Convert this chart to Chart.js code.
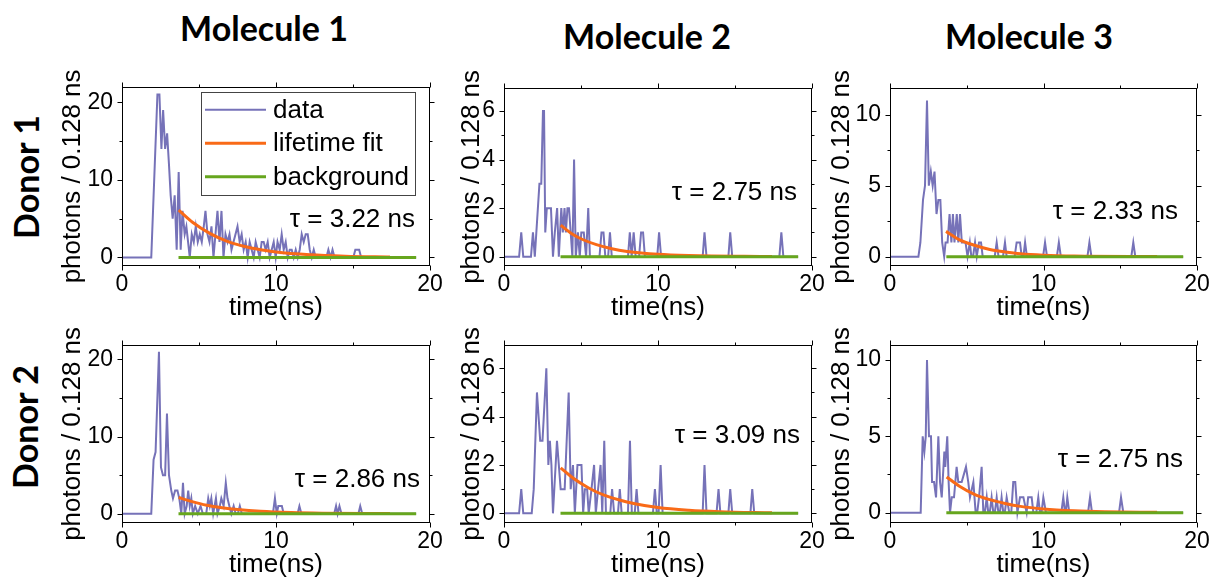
<!DOCTYPE html>
<html>
<head>
<meta charset="utf-8">
<script src="https://cdn.jsdelivr.net/npm/chart.js@4.4.0/dist/chart.umd.min.js"></script>
<style>
  body { margin: 0; background: #fff; width: 1213px; height: 581px; position: relative; overflow: hidden; }
  canvas { position: absolute; }
  .head { position: absolute; transform: translateX(-50%); font: 700 34px Lato, sans-serif; line-height: 1; white-space: nowrap; color: #000; }
  .side { position: absolute; transform: translate(-50%, -50%) rotate(-90deg); font: 700 34px Lato, sans-serif; line-height: 1; white-space: nowrap; color: #000; }
</style>
</head>
<body>
<div class="head" style="left:264px;top:11px">Molecule 1</div>
<div class="head" style="left:647px;top:19px">Molecule 2</div>
<div class="head" style="left:1029px;top:19px">Molecule 3</div>
<div class="side" style="left:26px;top:177px">Donor 1</div>
<div class="side" style="left:25px;top:427px">Donor 2</div>

<canvas id="p1"></canvas>
<canvas id="p2"></canvas>
<canvas id="p3"></canvas>
<canvas id="p4"></canvas>
<canvas id="p5"></canvas>
<canvas id="p6"></canvas>

<script>
// =====================
// Dados
// =====================
const seriesNames = ['data', 'lifetime fit', 'background'];
const tauLabels = ['3.22', '2.75', '2.33', '2.86', '3.09', '2.75'];

const xMajor = [0, 10, 20];
const xMinor = [5, 15];
const yMajorBig = [0, 10, 20];
const yMinorBig = [5, 15];
const yMajorSmall = [0, 2, 4, 6];
const yMinorSmall = [1, 3, 5];
const yMajorMid = [0, 5, 10];
const yMinorMid = [2.5, 7.5];

// Donor 1 / Molecule 1
const d1Time = [0, 1.9, 2.3, 2.43, 2.56, 2.67, 2.8, 2.93, 3.05, 3.16, 3.29, 3.42, 3.55, 3.68, 3.81, 3.93, 4.07, 4.18, 4.29, 4.4,
  4.53, 4.66, 4.79, 4.92, 5.05, 5.18, 5.31, 5.42, 5.55, 5.68, 5.81, 5.94, 6.07, 6.2, 6.33, 6.46, 6.59, 6.72, 6.85, 6.98,
  7.11, 7.24, 7.37, 7.5, 7.64, 7.77, 7.9, 8.03, 8.16, 8.29, 8.42, 8.55, 8.68, 8.81, 8.94, 9.07, 9.2, 9.33, 9.46, 9.59,
  9.72, 9.85, 9.98, 10.1, 10.24, 10.37, 10.5, 10.63, 10.76, 10.89, 11.02, 11.15, 11.28, 11.41, 11.54, 11.67, 11.8, 11.93, 12.06, 12.19,
  12.32, 12.45, 12.58, 13.27, 13.4, 13.54, 13.67, 13.8, 15.02, 15.15, 15.4, 15.53, 19.1];
const d1Photons = [0, 0, 21, 21, 14, 19, 14, 16, 12, 8, 5, 8, 1, 11, 1, 6, 3, 4, 2, 0,
  3, 2, 4, 2, 3, 2, 4, 6, 3, 2, 4, 0, 3, 6, 2, 6, 0, 3, 2, 3,
  1, 2, 3, 4, 2, 3, 1, 2, 0, 2, 1, 0, 2, 1, 0, 2, 2, 1, 2, 0,
  1, 2, 0, 2, 1, 3, 1, 2, 0, 1, 1, 0, 1, 0, 1, 3, 2, 3, 3, 1,
  0, 1, 0, 0, 1, 0, 1, 0, 0, 1, 1, 0, 0];
const fit1Time = [3.68, 4.6, 5.7, 6.8, 7.9, 9.0, 10.0, 12.2, 14.5, 17.4];
const fit1Photons = [6.1, 4.5, 3.1, 2.1, 1.45, 1.0, 0.7, 0.35, 0.17, 0.07];

// Donor 1 / Molecule 2
const d2Time = [0, 0.98, 1.12, 1.25, 1.75, 1.88, 2.0, 2.3, 2.42, 2.53, 2.6, 2.68, 2.78, 2.92, 3.05, 3.18, 3.3, 3.45, 3.56, 3.72,
  3.82, 3.93, 4.02, 4.12, 4.22, 4.33, 4.44, 4.55, 4.66, 4.8, 4.92, 5.02, 5.18, 5.33, 5.47, 5.58, 6.2, 6.33, 6.46, 6.58,
  6.76, 6.88, 7.0, 8.05, 8.17, 8.29, 8.42, 8.55, 8.77, 8.9, 9.03, 9.15, 9.95, 10.07, 10.2, 12.9, 13.02, 13.15, 14.57, 14.69,
  14.82, 17.88, 18.01, 18.14, 19.1];
const d2Photons = [0, 0, 1, 0, 0, 1, 0, 3, 3, 6, 6, 1, 2, 2, 2, 0, 1, 2, 0, 2,
  1, 2, 1, 2, 2, 1, 0, 4, 0, 1, 0, 1, 1, 0, 2, 0, 0, 1, 1, 0,
  0, 1, 0, 0, 1, 0, 1, 0, 0, 1, 1, 0, 0, 1, 0, 0, 1, 0, 0, 1,
  0, 0, 1, 0, 0];
const fit2Time = [3.68, 4.4, 5.14, 6.0, 7.0, 8.0, 10.0, 12.0, 17.4];
const fit2Photons = [1.3, 0.95, 0.7, 0.5, 0.33, 0.22, 0.1, 0.05, 0.01];

// Donor 1 / Molecule 3
const d3Time = [0, 1.85, 1.98, 2.15, 2.28, 2.41, 2.53, 2.66, 2.78, 2.9, 3.03, 3.15, 3.28, 3.4, 3.53, 3.62, 3.75, 3.88, 4.0, 4.1,
  4.2, 4.35, 4.45, 4.56, 4.68, 4.8, 4.92, 5.05, 5.2, 5.3, 5.41, 5.54, 5.65, 5.8, 5.93, 6.04, 6.82, 6.95, 7.07, 7.36,
  7.49, 7.6, 8.12, 8.25, 8.38, 8.47, 8.58, 8.69, 8.8, 8.92, 9.97, 10.1, 10.23, 10.87, 11.0, 11.13, 12.86, 12.99, 13.12, 15.72,
  15.85, 15.98, 19.1];
const d3Photons = [0, 0, 1, 4, 5, 11, 5, 6, 5, 6, 3, 4, 4, 1, 0, 1, 1, 3, 1, 3,
  1, 3, 1, 3, 1, 1, 1, 0, 1, 0, 0, 1, 0, 1, 1, 0, 0, 1, 0, 0,
  1, 0, 0, 1, 1, 1, 0, 0, 1, 0, 0, 1, 0, 0, 1, 0, 0, 1, 0, 0,
  1, 0, 0];
const fit3Time = [3.65, 4.5, 5.5, 6.5, 7.5, 8.5, 10.0, 12.0, 17.4];
const fit3Photons = [1.78, 1.2, 0.8, 0.5, 0.33, 0.2, 0.1, 0.04, 0.01];

// Donor 2 / Molecule 1
const d4Time = [0, 1.9, 2.05, 2.18, 2.4, 2.53, 2.66, 2.8, 2.92, 3.05, 3.2, 3.31, 3.45, 3.6, 3.72, 3.85, 3.96, 4.07, 4.2, 4.3,
  4.4, 4.5, 4.6, 4.75, 4.92, 5.1, 5.25, 5.47, 5.6, 5.7, 5.8, 5.92, 6.1, 6.2, 6.35, 6.45, 6.6, 6.74, 6.85, 6.97,
  7.1, 7.25, 7.38, 7.52, 7.65, 7.78, 9.8, 9.93, 10.05, 10.15, 10.38, 10.5, 11.4, 11.52, 11.65, 13.78, 13.9, 14.0, 14.12, 14.25,
  15.35, 15.47, 15.6, 19.1];
const d4Photons = [0, 0, 7, 8, 21, 6, 5, 5, 13, 5, 3, 2, 3, 3, 2, 0, 4, 0, 1, 3,
  1, 2, 0, 1, 0, 1, 0, 0, 2, 1, 2, 0, 2, 0, 1, 2, 1, 4, 2, 1,
  0, 1, 0, 0, 1, 0, 0, 2, 0, 1, 1, 0, 0, 1, 0, 0, 1, 0, 1, 0,
  0, 1, 0, 0];
const fit4Time = [3.68, 4.5, 5.5, 6.5, 7.5, 9.0, 11.0, 13.0, 17.4];
const fit4Photons = [2.1, 1.6, 1.1, 0.78, 0.55, 0.32, 0.16, 0.08, 0.02];

// Donor 2 / Molecule 2
const d5Time = [0, 0.98, 1.12, 1.25, 1.8, 1.93, 2.14, 2.35, 2.5, 2.75, 2.88, 2.98, 3.08, 3.18, 3.44, 3.68, 3.94, 4.2, 4.33, 4.48,
  4.6, 4.77, 5.03, 5.14, 5.25, 5.4, 5.5, 5.68, 5.85, 5.96, 6.11, 6.27, 6.38, 6.51, 6.62, 6.9, 7.02, 7.15, 7.4, 7.52,
  7.64, 8.05, 8.18, 8.3, 8.49, 8.61, 8.73, 9.67, 9.8, 9.92, 10.04, 10.17, 10.3, 12.9, 13.02, 13.15, 13.8, 13.93, 14.05, 14.57,
  14.69, 14.82, 16.0, 16.12, 16.25, 19.1];
const d5Photons = [0, 0, 1, 0, 0, 1, 5, 3, 3, 6, 2, 3, 2, 0, 3, 1, 1, 5, 1, 2,
  0, 2, 2, 0, 1, 1, 0, 1, 2, 0, 1, 2, 0, 3, 0, 0, 1, 0, 0, 1,
  0, 0, 3, 0, 0, 1, 0, 0, 1, 0, 0, 2, 0, 0, 2, 0, 0, 1, 0, 0,
  1, 0, 0, 1, 0, 0];
const fit5Time = [3.68, 4.5, 5.5, 6.5, 7.5, 8.5, 10.0, 12.0, 14.0, 17.4];
const fit5Photons = [1.88, 1.45, 1.05, 0.75, 0.55, 0.4, 0.24, 0.13, 0.07, 0.02];

// Donor 2 / Molecule 3
const d6Time = [0, 2.0, 2.13, 2.24, 2.33, 2.41, 2.54, 2.67, 2.74, 2.87,
  3.0, 3.15, 3.26, 3.37, 3.54, 3.6, 3.73, 3.82, 3.91, 4.02,
  4.17, 4.34, 4.45, 4.67, 4.95, 5.1, 5.21, 5.43, 5.58, 5.68,
  5.8, 5.97, 6.08, 6.18, 6.3, 6.4, 6.5, 6.62, 6.73, 6.83,
  6.95, 7.06, 7.16, 7.27, 7.38, 7.48, 7.6, 7.77, 7.9, 8.03,
  8.16, 8.3, 8.47, 8.69, 8.9, 9.0, 9.23, 9.34, 9.53, 9.66,
  9.77, 9.87, 9.99, 10.16, 11.16, 11.29, 11.4, 11.45, 11.55, 11.68,
  12.9, 13.03, 13.16, 14.92, 15.05, 15.2, 19.1];
const d6Photons = [0, 0, 5, 4, 5, 10, 5, 5, 2, 2,
  1, 5, 2, 1, 4, 3, 5, 2, 0, 1,
  1, 3, 2, 2, 3, 2, 1, 2, 0, 0,
  1, 3, 0, 0, 1, 0, 0, 1, 0, 0,
  1, 0, 0, 1, 0, 0, 1, 0, 0, 2,
  2, 0, 1, 1, 0, 1, 1, 0, 0, 1,
  0, 0, 1, 0, 0, 1, 0, 0, 1, 0,
  0, 1, 0, 0, 1, 0, 0];
const fit6Time = [3.69, 4.5, 5.5, 6.5, 7.5, 8.5, 10.0, 12.0, 14.0, 17.4];
const fit6Photons = [2.34, 1.75, 1.2, 0.85, 0.6, 0.41, 0.24, 0.12, 0.06, 0.02];

// background (nível zero)
const bgTime = [3.67, 19.1];
const bgPhotons = [0, 0];

// =====================
// Helpers visuais
// =====================
const FONT = "'Liberation Sans', Arial, sans-serif";
const colData = '#7672b8';
const colFit = '#f96a17';
const colBg = '#66a61e';
const ML = 100, MT = 12, MR = 24, MB = 70;

const pts = (xs, ys) => xs.map((x, i) => ({ x, y: ys[i] }));

const panels = [
  { id: 'p1', L: 122, T: 76, W: 308, H: 190, yMin: -1.1, yMax: 22, yMajor: yMajorBig, yMinor: yMinorBig, yGap: 49.5,
    tau: tauLabels[0], tauRight: 415, tauBase: 227, legend: true, t: d1Time, p: d1Photons, ft: fit1Time, fp: fit1Photons },
  { id: 'p2', L: 504, T: 77, W: 308, H: 189, yMin: -0.38, yMax: 6.95, yMajor: yMajorSmall, yMinor: yMinorSmall, yGap: 32,
    tau: tauLabels[1], tauRight: 797, tauBase: 200, t: d2Time, p: d2Photons, ft: fit2Time, fp: fit2Photons },
  { id: 'p3', L: 890, T: 77, W: 307, H: 189, yMin: -0.66, yMax: 11.9, yMajor: yMajorMid, yMinor: yMinorMid, yGap: 48,
    tau: tauLabels[2], tauRight: 1178, tauBase: 219, t: d3Time, p: d3Photons, ft: fit3Time, fp: fit3Photons },
  { id: 'p4', L: 122, T: 334, W: 308, H: 189, yMin: -1.2, yMax: 21.9, yMajor: yMajorBig, yMinor: yMinorBig, yGap: 49.5,
    tau: tauLabels[3], tauRight: 420, tauBase: 487, t: d4Time, p: d4Photons, ft: fit4Time, fp: fit4Photons },
  { id: 'p5', L: 504, T: 334, W: 308, H: 189, yMin: -0.4, yMax: 6.97, yMajor: yMajorSmall, yMinor: yMinorSmall, yGap: 32,
    tau: tauLabels[4], tauRight: 800, tauBase: 443, t: d5Time, p: d5Photons, ft: fit5Time, fp: fit5Photons },
  { id: 'p6', L: 890, T: 334, W: 307, H: 189, yMin: -0.68, yMax: 11, yMajor: yMajorMid, yMinor: yMinorMid, yGap: 48,
    tau: tauLabels[5], tauRight: 1183, tauBase: 467, t: d6Time, p: d6Photons, ft: fit6Time, fp: fit6Photons }
];

// moldura + ticks (fora) + tau + legenda
const panelDecor = {
  id: 'panelDecor',
  afterDatasetsDraw(chart, args, o) {
    const { ctx, chartArea: a, scales: { x, y } } = chart;
    const l = Math.round(a.left) + 0.5, t = Math.round(a.top) + 0.5;
    const r = Math.round(a.right) - 0.5, b = Math.round(a.bottom) - 0.5;
    ctx.save();
    ctx.strokeStyle = '#000';
    ctx.lineWidth = 1;
    ctx.strokeRect(l, t, r - l, b - t);
    ctx.beginPath();
    const xt = (vals, len) => vals.forEach(v => {
      const px = Math.round(x.getPixelForValue(v)) + 0.5;
      ctx.moveTo(px, b); ctx.lineTo(px, b + len);
      ctx.moveTo(px, t); ctx.lineTo(px, t - len);
    });
    const yt = (vals, len) => vals.forEach(v => {
      const py = Math.round(y.getPixelForValue(v)) + 0.5;
      ctx.moveTo(l, py); ctx.lineTo(l - len, py);
      ctx.moveTo(r, py); ctx.lineTo(r + len, py);
    });
    xt(o.xMajor, 5); xt(o.xMinor, 3);
    yt(o.yMajor, 5); yt(o.yMinor, 3);
    ctx.stroke();

    // tau
    ctx.fillStyle = '#000';
    ctx.font = '26px ' + FONT;
    ctx.textAlign = 'right';
    ctx.textBaseline = 'alphabetic';
    ctx.fillText('\u03c4 = ' + o.tau + ' ns', o.tauX, o.tauY);

    if (o.legend) {
      const ds = chart.data.datasets;
      const bx = a.left + 79, by = a.top + 5;
      ctx.strokeStyle = '#444';
      ctx.strokeRect(Math.round(bx) + 0.5, Math.round(by) + 0.5, 214, 103);
      ctx.font = '26px ' + FONT;
      ctx.textAlign = 'left';
      ctx.textBaseline = 'middle';
      seriesNames.forEach((name, i) => {
        const ly = by + 18 + i * 33.5;
        ctx.strokeStyle = ds[i].borderColor;
        ctx.lineWidth = ds[i].borderWidth;
        ctx.beginPath();
        ctx.moveTo(bx + 4, ly); ctx.lineTo(bx + 65, ly);
        ctx.stroke();
        ctx.fillText(name, bx + 72, ly + 1);
      });
    }
    ctx.restore();
  }
};

panels.forEach(pn => {
  const cv = document.getElementById(pn.id);
  const cw = pn.W + ML + MR, ch = pn.H + MT + MB;
  const left = pn.L - ML, top = pn.T - MT;
  cv.width = cw; cv.height = ch;
  cv.style.left = left + 'px';
  cv.style.top = top + 'px';
  cv.style.width = cw + 'px';
  cv.style.height = ch + 'px';

  new Chart(cv.getContext('2d'), {
    type: 'line',
    data: {
      datasets: [
        { label: seriesNames[0], data: pts(pn.t, pn.p), borderColor: colData, borderWidth: 2, pointRadius: 0, tension: 0, order: 3 },
        { label: seriesNames[1], data: pts(pn.ft, pn.fp), borderColor: colFit, borderWidth: 3, pointRadius: 0, cubicInterpolationMode: 'monotone', order: 2 },
        { label: seriesNames[2], data: pts(bgTime, bgPhotons), borderColor: colBg, borderWidth: 3, pointRadius: 0, order: 1 }
      ]
    },
    options: {
      responsive: false,
      animation: false,
      devicePixelRatio: 1,
      events: [],
      layout: { padding: { left: 0, top: MT, right: MR, bottom: 0 } },
      plugins: {
        legend: { display: false },
        tooltip: { enabled: false },
        panelDecor: {
          xMajor, xMinor, yMajor: pn.yMajor, yMinor: pn.yMinor,
          tau: pn.tau, tauX: pn.tauRight - left, tauY: pn.tauBase - top, legend: !!pn.legend
        }
      },
      scales: {
        x: {
          type: 'linear', min: 0, max: 20,
          afterBuildTicks: s => { s.ticks = xMajor.map(v => ({ value: v })); },
          afterFit: s => { s.height = MB; },
          grid: { display: false, drawTicks: false },
          border: { display: false },
          ticks: { color: '#000', font: { family: FONT, size: 23 }, padding: 5, maxRotation: 0, autoSkip: false },
          title: { display: true, text: 'time(ns)', color: '#000', font: { family: FONT, size: 26, lineHeight: 1 }, padding: { top: 0, bottom: 15 } }
        },
        y: {
          min: pn.yMin, max: pn.yMax,
          afterBuildTicks: s => { s.ticks = pn.yMajor.map(v => ({ value: v })); },
          afterFit: s => { s.width = ML; },
          grid: { display: false, drawTicks: false },
          border: { display: false },
          ticks: { color: '#000', font: { family: FONT, size: 23 }, padding: 9, autoSkip: false },
          title: { display: true, text: 'photons / 0.128 ns', color: '#000', font: { family: FONT, size: 26, lineHeight: 1 }, padding: { top: ML - pn.yGap - 13, bottom: 0 } }
        }
      }
    },
    plugins: [panelDecor]
  });
});
</script>
</body>
</html>
